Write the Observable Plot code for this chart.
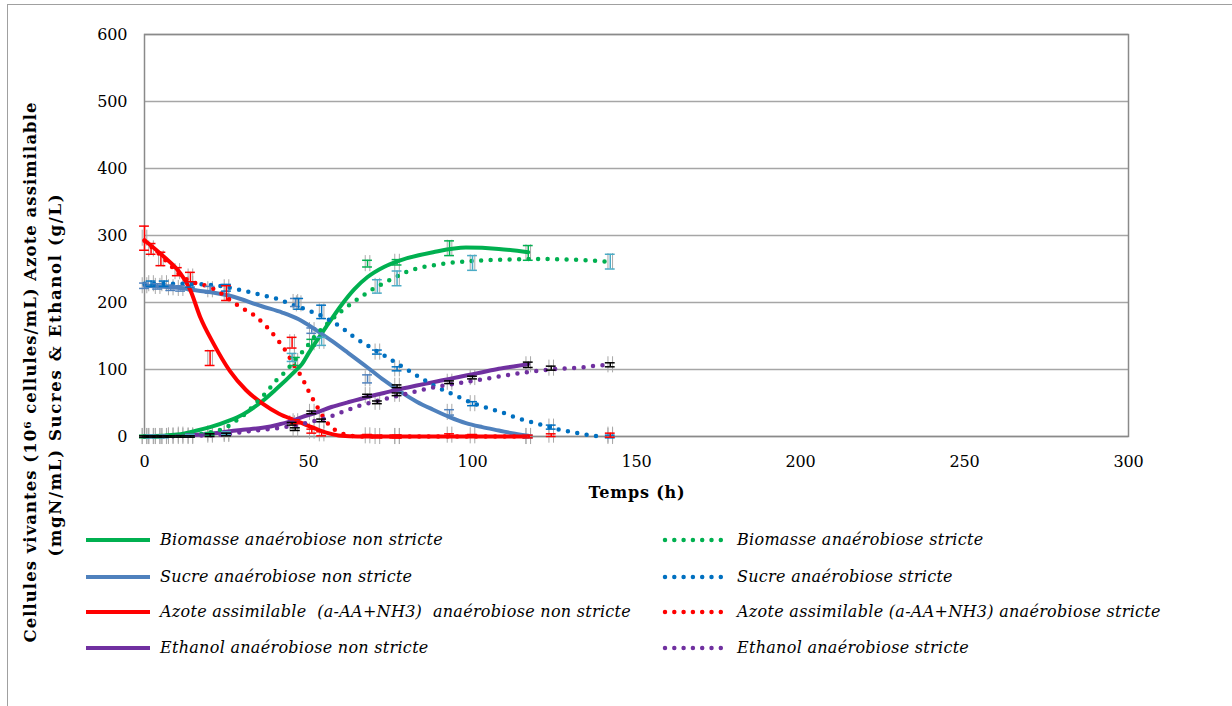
<!DOCTYPE html>
<html>
<head>
<meta charset="utf-8">
<script src="https://cdn.jsdelivr.net/npm/d3@7"></script>
<script src="https://cdn.jsdelivr.net/npm/@observablehq/plot@0.6"></script>
<style>
  html, body { margin: 0; padding: 0; background: #fff; overflow: hidden; }
  #frame { position: absolute; left: 7px; top: 4px; width: 1240px; height: 720px;
           border-left: 1px solid #a0a0a0; border-top: 1px solid #a0a0a0; }
  #chart { position: absolute; left: 0; top: 0; }
  .leg { position: absolute; font-style: italic; color: #000; white-space: pre; line-height: 20px; height: 20px; }
  .leg svg { position: absolute; }
</style>
</head>
<body>
<div id="frame"><div id="chart"></div></div>
<script>
// ---- Axis ticks ----
const xTicks = [0, 50, 100, 150, 200, 250, 300];
const yTicks = [0, 100, 200, 300, 400, 500, 600];

// ---- Curves: [time (h), value] ----
const biomasseNonStricte = [[0,0],[10,3],[16,9],[20,14],[26,24],[30,33],[36,53],[40,70],[46,98],[48,108],[50,124],[56,168],[60,196],[64,220],[68,238],[73,253],[78,263],[88,275],[98,282],[108,280],[117,275]];
const biomasseStricte = [[0,0],[10,1],[20,6],[25,14],[28,24],[31,35],[34,50],[37,65],[40,83],[43,97],[46,115],[49,131],[52,150],[55,165],[60,187],[65,205],[70,221],[75,234],[80,246],[90,257],[100,262],[110,264],[120,265],[130,264],[141,261]];
const sucreNonStricte = [[0,225],[10,222],[16,218],[26,210],[36,194],[42,185],[47,175],[52,160],[57,143],[62,125],[68,103],[73,84],[78,67],[83,52],[88,40],[93,29],[98,20],[103,14],[108,9],[113,4],[117,1]];
const sucreStricte = [[0,228],[10,228],[18,227],[25,223],[29,219],[35,212],[40,206],[45,197],[49,190],[54,180],[60,163],[64,148],[69,133],[74,118],[79,103],[84,88],[89,74],[94,63],[100,50],[105,42],[109,36],[114,27],[120,19],[125,12],[131,6],[137,1],[140,0]];
const azoteNonStricte = [[0,293],[6,268],[11,243],[14,218],[17,178],[21,139],[26,98],[31,69],[36,49],[41,34],[46,24],[52,12],[56,5],[60,1],[65,0],[117,0]];
const azoteStricte = [[0,292],[5,270],[9,250],[12,237],[15,230],[18,226],[22,218],[26,204],[30,191],[34,179],[37,165],[40,148],[43,128],[46,103],[48,88],[50,68],[52,50],[54,33],[56,19],[58,10],[60,5],[63,1],[66,0],[118,0]];
const ethanolNonStricte = [[0,0],[10,1],[20,4],[26,8],[30,10],[36,13],[41,18],[46,25],[48,29],[52,35],[57,44],[62,51],[68,59],[73,65],[78,71],[83,76],[88,81],[93,86],[98,91],[103,96],[108,101],[113,105],[117,108]];
const ethanolStricte = [[0,0],[10,0.5],[20,2],[25,3],[29,6],[32,8],[38,11],[44,15],[50,21],[55,27],[60,36],[65,45],[70,52],[75,58],[80,64],[85,70],[90,75],[95,79],[100,83],[105,87],[110,91],[115,95],[120,98],[126,101],[133,103],[138,106],[142,107]];

// ---- Measurements: [time (h), value, error] ----
const ptsBiomasseNS = [[0,0,2],[4,0,2],[8,1,2],[11,2,2],[20,4,2],[46,112,6],[51,140,5],[68,258,5],[77,260,4],[93,281,11],[117,274,11]];
const ptsBiomasseS  = [[2,0,2],[6,0,2],[14,1,2],[25,5,2],[45,118,6],[54,142,6],[71,224,10],[77,236,11],[100,259,11],[142,261,11]];
const ptsSucreNS    = [[0,225,4],[4,224,4],[8,222,4],[11,221,4],[20,219,5],[46,200,6],[51,158,4],[68,86,6],[93,36,4],[117,0,2]];
const ptsSucreS     = [[2,228,4],[6,228,4],[14,227,4],[25,222,5],[47,198,8],[54,186,10],[71,126,3],[77,101,3],[100,49,3],[124,14,3],[142,0,2]];
const ptsAzoteNS    = [[0,296,18],[5,265,10],[10,246,6],[20,117,11],[46,22,3],[51,8,3],[68,1,2],[77,0,2],[93,2,2],[117,0,2]];
const ptsAzoteS     = [[2,280,8],[14,238,7],[25,214,11],[45,140,8],[54,4,3],[71,0,2],[77,0,2],[100,1,2],[124,2,2],[142,2,3]];
const ptsEthanolNS  = [[0,0,1],[4,0,1],[8,0,1],[11,0,1],[20,2,2],[46,11,2],[51,36,2],[68,61,2],[77,75,2],[93,81,2],[117,107,4]];
const ptsEthanolS   = [[2,0,1],[6,0,1],[14,0,1],[25,3,2],[45,19,2],[54,24,2],[71,51,2],[77,63,2],[100,88,2],[124,102,3],[142,107,3]];

// ---- Texts ----
const xTitle = "Temps (h)";
const yTitleLines = ["Cellules vivantes (10⁶ cellules/mL) Azote assimilable", "(mgN/mL) Sucres & Ethanol (g/L)"];
const labelsNonStricte = ["Biomasse anaérobiose non stricte", "Sucre anaérobiose non stricte", "Azote assimilable  (a-AA+NH3)  anaérobiose non stricte", "Ethanol anaérobiose non stricte"];
const labelsStricte = ["Biomasse anaérobiose stricte", "Sucre anaérobiose stricte", "Azote assimilable (a-AA+NH3) anaérobiose stricte", "Ethanol anaérobiose stricte"];

const GREEN = "#00B050", BLUE = "#4F81BD", BLUE2 = "#0070C0", RED = "#FF0000", PURPLE = "#7030A0", TEAL = "#4BACC6";

const solidSeries = [[biomasseNonStricte, GREEN], [sucreNonStricte, BLUE], [azoteNonStricte, RED], [ethanolNonStricte, PURPLE]];
const dottedSeries = [[biomasseStricte, GREEN], [sucreStricte, BLUE2], [azoteStricte, RED], [ethanolStricte, PURPLE]];
const pointSets = [[ptsBiomasseNS, GREEN], [ptsBiomasseS, TEAL], [ptsSucreNS, BLUE], [ptsSucreS, BLUE2], [ptsAzoteNS, RED], [ptsAzoteS, RED], [ptsEthanolNS, "#000"], [ptsEthanolS, "#000"]];

// ---- Font choice (serif, Century-Schoolbook-like widths) ----
const ctx = document.createElement("canvas").getContext("2d");
function hasFont(name) {
  const s = "mmmmmmmwwwwwiiiillll 0123456789 ABCDEFG";
  return ["monospace", "sans-serif"].some(base => {
    ctx.font = `72px ${base}`; const w0 = ctx.measureText(s).width;
    ctx.font = `72px "${name}", ${base}`; return Math.abs(ctx.measureText(s).width - w0) > 0.5;
  });
}
const dejavu = hasFont("DejaVu Serif");
const FAM = dejavu ? '"DejaVu Serif", "Liberation Serif", serif' : '"Liberation Serif", serif';
const FS = dejavu ? 16 : 18;
function spacing(text, font, target) {
  ctx.font = font;
  const w = ctx.measureText(text).width;
  return Math.max(-1, (target - w) / text.length);
}
const lsTick = spacing("600", `${FS}px ${FAM}`, 30);
const lsLegend = spacing(labelsNonStricte[0], `italic ${FS}px ${FAM}`, 283);

const X = d => d[0], Y = d => d[1];

function grayCaps(pts) {
  return [-0.7, 0.7].map(o => Plot.ruleX(pts, {x: d => d[0] + o, y1: d => d[1] - 12, y2: d => d[1] + 12, stroke: "#a8a8a8", strokeWidth: 1}));
}
function errorBars(pts, color) {
  return [
    Plot.ruleX(pts, {x: X, y1: d => d[1] - d[2], y2: d => d[1] + d[2], stroke: color, strokeWidth: 1.5}),
    Plot.ruleY(pts, {y: d => d[1] - d[2], x1: d => d[0] - 1.5, x2: d => d[0] + 1.5, stroke: color, strokeWidth: 1.5}),
    Plot.ruleY(pts, {y: d => d[1] + d[2], x1: d => d[0] - 1.5, x2: d => d[0] + 1.5, stroke: color, strokeWidth: 1.5})
  ];
}

const chart = Plot.plot({
  width: 1216,
  height: 700,
  marginLeft: 136,
  marginRight: 96,
  marginTop: 29,
  marginBottom: 269,
  style: {fontFamily: FAM, fontSize: FS + "px", color: "#000", background: "transparent"},
  x: {domain: [0, 300]},
  y: {domain: [0, 600]},
  marks: [
    Plot.gridY(yTicks, {stroke: "#a6a6a6", strokeOpacity: 1, strokeWidth: 1.3}),
    Plot.frame({stroke: "#8a8a8a", strokeWidth: 1.5}),
    Plot.axisX({ticks: xTicks, tickSize: 0, tickPadding: 19, label: null, fontSize: FS}),
    Plot.axisY({ticks: yTicks, tickSize: 0, tickPadding: 17 - lsTick, label: null, fontSize: FS}),
    Plot.text([xTitle], {frameAnchor: "bottom", dy: 56, fontWeight: "bold", fontSize: FS, lineAnchor: "middle"}),
    Plot.text([yTitleLines[0]], {frameAnchor: "left", rotate: -90, dx: -114, dy: 137, fontWeight: "bold", fontSize: FS + 0.5, lineAnchor: "middle", textAnchor: "middle"}),
    Plot.text([yTitleLines[1]], {frameAnchor: "left", rotate: -90, dx: -89, dy: 140, fontWeight: "bold", fontSize: FS + 0.5, lineAnchor: "middle", textAnchor: "middle"}),
    ...pointSets.flatMap(([p]) => grayCaps(p)),
    ...solidSeries.map(([d, c]) => Plot.line(d, {x: X, y: Y, stroke: c, strokeWidth: 4, curve: "monotone-x"})),
    ...dottedSeries.map(([d, c]) => Plot.line(d, {x: X, y: Y, stroke: c, strokeWidth: 4.5, strokeDasharray: "0 9.5", strokeLinecap: "round", curve: "monotone-x"})),
    ...pointSets.flatMap(([p, c]) => errorBars(p, c))
  ]
});
document.getElementById("chart").appendChild(chart);
d3.select(chart).selectAll('g[aria-label="x-axis tick label"] text, g[aria-label="y-axis tick label"] text').style("letter-spacing", lsTick + "px");
// stretch titles to the reference's lengths (matched by their text)
const titleLengths = new Map([[xTitle, 96], [yTitleLines[0], 540], [yTitleLines[1], 362]]);
d3.select(chart).selectAll("text").each(function() {
  const L = titleLengths.get(this.textContent);
  if (L) { this.setAttribute("textLength", L); this.setAttribute("lengthAdjust", "spacing"); }
});

// ---- Legend (HTML, below the plot area) ----
const frame = document.getElementById("frame");
const rowY = [535, 572, 607, 643];
const solidColors = solidSeries.map(s => s[1]);
const dottedColors = dottedSeries.map(s => s[1]);
function legendRow(left, top, sample, label) {
  const el = document.createElement("div");
  el.className = "leg";
  el.style.left = left + "px"; el.style.top = top + "px";
  el.style.fontFamily = FAM; el.style.fontSize = FS + "px";
  el.innerHTML = sample + `<span style="position:absolute;left:75px;top:0;letter-spacing:${lsLegend}px">${label}</span>`;
  frame.appendChild(el);
}
labelsNonStricte.forEach((lab, i) => legendRow(77, rowY[i] - 10,
  `<svg width="66" height="20" style="left:0;top:0"><line x1="1" x2="65" y1="10" y2="10" stroke="${solidColors[i]}" stroke-width="4"/></svg>`, lab));
labelsStricte.forEach((lab, i) => legendRow(654, rowY[i] - 10,
  `<svg width="70" height="20" style="left:0;top:0"><line x1="3" x2="68" y1="10" y2="10" stroke="${dottedColors[i]}" stroke-width="4.5" stroke-dasharray="0 9.3" stroke-linecap="round"/></svg>`, lab));
</script>
</body>
</html>
